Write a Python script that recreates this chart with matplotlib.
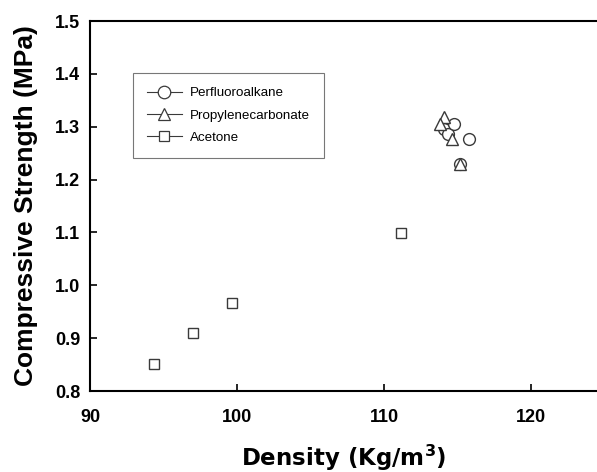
import matplotlib
matplotlib.use("Agg")
import matplotlib.pyplot as plt
from matplotlib.lines import Line2D

# Data
perfluoro_x = [114.08, 114.38, 114.76, 115.8, 115.2]
perfluoro_y = [1.295, 1.287, 1.306, 1.277, 1.230]
propylene_x = [114.08, 113.8, 114.6, 115.2]
propylene_y = [1.318, 1.306, 1.277, 1.230]
acetone_x = [94.35, 97.03, 99.68, 111.16]
acetone_y = [0.852, 0.909, 0.966, 1.098]

x_ticks = [90, 100, 110, 120]
y_ticks = [0.8, 0.9, 1.0, 1.1, 1.2, 1.3, 1.4, 1.5]
legend_labels = ['Perfluoroalkane', 'Propylenecarbonate', 'Acetone']

fig = plt.figure(figsize=(5.97, 4.72), dpi=100)
ax = fig.add_axes([90/597, 1-391/472, 1-90/597, (391-21)/472])

ec = '#3a3a3a'
kw = dict(linestyle='none', markerfacecolor='white', markeredgecolor=ec,
          markeredgewidth=1.0)
ax.plot(perfluoro_x, perfluoro_y, marker='o', markersize=8.5, label=legend_labels[0], **kw)
ax.plot(propylene_x, propylene_y, marker='^', markersize=8.5, label=legend_labels[1], **kw)
ax.plot(acetone_x, acetone_y, marker='s', markersize=7.5, label=legend_labels[2], **kw)

ax.set_xlim(90, 90 + 507/14.7)
ax.set_ylim(0.8, 1.5)
ax.set_xticks(x_ticks)
ax.set_yticks(y_ticks)
ax.set_xticklabels([str(v) for v in x_ticks])
ax.set_yticklabels([f"{v:.1f}" for v in y_ticks])
ax.spines['right'].set_visible(False)
for s in ['left', 'bottom', 'top']:
    ax.spines[s].set_linewidth(1.5)
ax.tick_params(direction='in', length=5, width=1.2, top=False, right=False,
               labelsize=13)
ax.tick_params(axis='y', pad=7)
ax.tick_params(axis='x', pad=13)
for lab in ax.get_xticklabels() + ax.get_yticklabels():
    lab.set_fontfamily('Liberation Sans')
    lab.set_fontweight('bold')

ax.set_ylabel('Compressive Strength (MPa)', fontsize=19, fontweight='bold',
              family='Liberation Sans', labelpad=12)
ax.set_xlabel('Density (Kg/m$^\\mathbf{3}$)', fontsize=16.5, fontweight='bold',
              family='DejaVu Sans', labelpad=12)

handles = [Line2D([], [], color=ec, lw=0.8, marker=m, markersize=ms,
                  markerfacecolor='white', markeredgecolor=ec, markeredgewidth=0.9)
           for m, ms in [('o', 9), ('^', 9), ('s', 7.5)]]
leg = ax.legend(handles, legend_labels,
                loc='upper left', bbox_to_anchor=((133-90)/507, 1-(73-21)/370),
                frameon=True, fancybox=False, prop={'family': 'Liberation Sans', 'size': 9.6},
                handlelength=2.6, handletextpad=0.6, labelspacing=0.75,
                borderpad=1.05, borderaxespad=0)
leg.get_frame().set_edgecolor('#555555')
leg.get_frame().set_linewidth(0.8)

fig.savefig('out.png', dpi=100)
